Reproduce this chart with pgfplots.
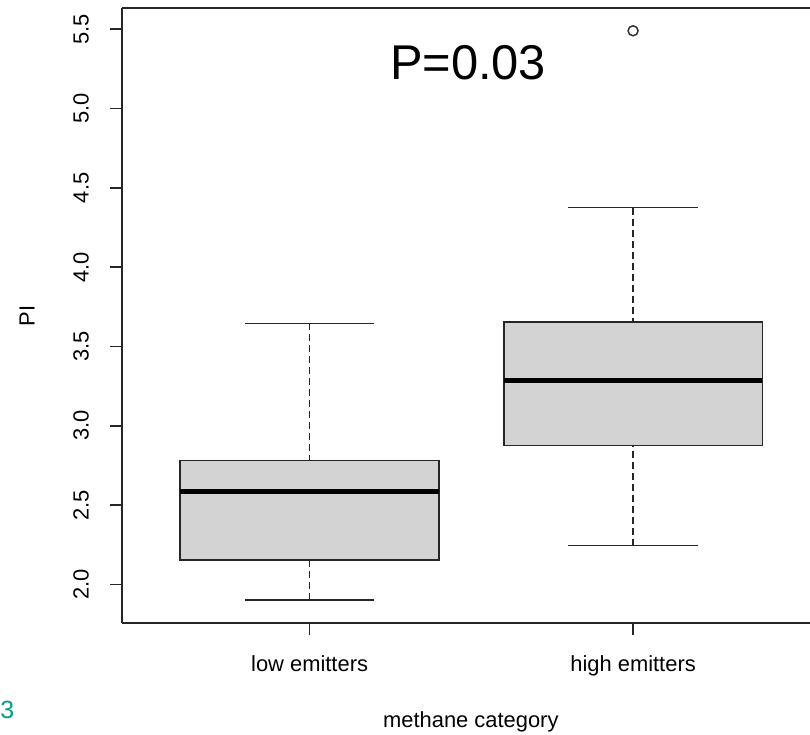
\documentclass[border=0pt]{standalone}
\usepackage{pgfplots}
\pgfplotsset{compat=1.18}
\usepgfplotslibrary{statistics}
\usepackage{fontspec}
\setmainfont{Liberation Sans}
\definecolor{boxgray}{RGB}{211,211,211}
\definecolor{tealthree}{RGB}{0,160,130}
\begin{document}
\begin{tikzpicture}
\begin{axis}[
  scale only axis, width=688bp, height=615bp,
  xmin=0.42, xmax=2.547, ymin=1.7564, ymax=5.6336,
  axis x line*=box, axis y line*=left,
  axis line style={line width=1.7bp, black!85},
  xtick={1,2}, xticklabels={low emitters, high emitters},
  ytick={2,2.5,3,3.5,4,4.5,5,5.5},
  xtick pos=bottom, ytick pos=left,
  tick align=outside, major tick length=12bp,
  tick style={line width=1.7bp, black!85},
  every tick label/.append style={font=\fontsize{22}{26}\selectfont},
  /pgf/number format/assume math mode=true,
  yticklabel style={rotate=90, anchor=south, inner sep=0pt,
    /pgf/number format/fixed, /pgf/number format/fixed zerofill,
    /pgf/number format/precision=1},
  yticklabel shift=21bp,
  xticklabel style={anchor=north, inner sep=0pt},
  xticklabel shift=20bp,
  ylabel={PI},
  every axis y label/.style={at={(rel axis cs:-0.1381,0.4992)}, rotate=90, anchor=center, font=\fontsize{22}{26}\selectfont},
  xlabel={methane category},
  every axis x label/.style={at={(rel axis cs:0.507,-0.161)}, anchor=center, font=\fontsize{22}{26}\selectfont},
  clip=false,
  boxplot/draw direction=y,
  boxplot/every median/.style={line width=5bp, black},
  boxplot/draw/lower whisker/.code={%
    \draw[dash pattern=on 7bp off 4bp]
      (boxplot box cs:\pgfplotsboxplotvalue{lower whisker},0.5) --
      (boxplot box cs:\pgfplotsboxplotvalue{lower quartile},0.5);
    \draw[solid]
      (boxplot whisker cs:\pgfplotsboxplotvalue{lower whisker},0) --
      (boxplot whisker cs:\pgfplotsboxplotvalue{lower whisker},1);
  },
  boxplot/draw/upper whisker/.code={%
    \draw[dash pattern=on 7bp off 4bp]
      (boxplot box cs:\pgfplotsboxplotvalue{upper whisker},0.5) --
      (boxplot box cs:\pgfplotsboxplotvalue{upper quartile},0.5);
    \draw[solid]
      (boxplot whisker cs:\pgfplotsboxplotvalue{upper whisker},0) --
      (boxplot whisker cs:\pgfplotsboxplotvalue{upper whisker},1);
  },
]
\addplot[fill=boxgray, draw=black!85, line width=1.7bp,
  boxplot prepared={draw position=1, lower whisker=1.90, lower quartile=2.155,
    median=2.585, upper quartile=2.78, upper whisker=3.645,
    box extend=0.8, whisker extend=0.4}] coordinates {};
\addplot[fill=boxgray, draw=black!85, line width=1.7bp,
  mark=o, mark size=5bp, mark options={solid, fill=none, line width=1.5bp, draw=black!80},
  boxplot prepared={draw position=2, lower whisker=2.245, lower quartile=2.875,
    median=3.285, upper quartile=3.655, upper whisker=4.375,
    box extend=0.8, whisker extend=0.4}] coordinates {(0,5.49)};
\node[font=\fontsize{49}{55}\selectfont] at (axis cs:1.49,5.287) {P=0.03};
\node[text=tealthree, font=\fontsize{25}{30}\selectfont, anchor=base west, inner sep=0pt] at (rel axis cs:-0.1772,-0.1545) {3};
\coordinate (bbsw) at (rel axis cs:-0.17733,-0.18049);
\coordinate (bbne) at (rel axis cs:1,1.01301);
\end{axis}
\pgfresetboundingbox
\useasboundingbox (bbsw) rectangle (bbne);
\end{tikzpicture}
\end{document}
